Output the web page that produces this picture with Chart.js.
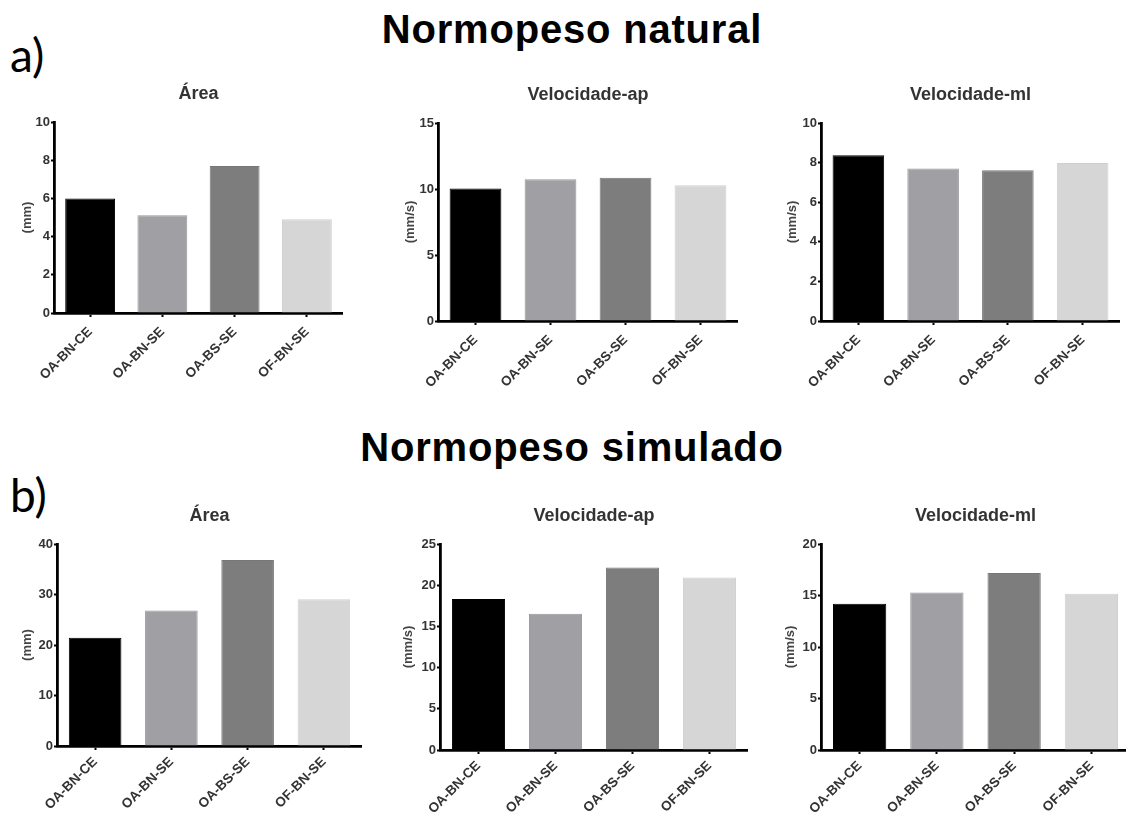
<!DOCTYPE html>
<html>
<head>
<meta charset="utf-8">
<script src="https://cdn.jsdelivr.net/npm/chart.js@4.4.1/dist/chart.umd.min.js"></script>
<style>
html,body{margin:0;padding:0;background:#fff;width:1126px;height:817px;overflow:hidden;position:relative;font-family:"Liberation Sans",Arial,sans-serif;}
.h{position:absolute;left:0;width:1144px;text-align:center;font-weight:bold;font-size:40px;line-height:40px;letter-spacing:0.8px;color:#000;white-space:nowrap;}
.p{position:absolute;left:10px;font-family:Lato,"Open Sans",sans-serif;font-size:46px;line-height:46px;color:#000;}
canvas{position:absolute;}
</style>
</head>
<body>
<div class="h" style="top:9px">Normopeso natural</div>
<div class="h" style="top:427px">Normopeso simulado</div>
<div class="p" style="top:32px">a)</div>
<div class="p" style="top:472px">b)</div>
<script>
// ---- data ----
const categories = ['OA-BN-CE', 'OA-BN-SE', 'OA-BS-SE', 'OF-BN-SE'];
const areaNatural = [6.0, 5.12, 7.7, 4.91];
const velApNatural = [10.03, 10.73, 10.86, 10.28];
const velMlNatural = [8.37, 7.70, 7.61, 7.98];
const areaSimulado = [21.45, 26.84, 36.84, 29.07];
const velApSimulado = [18.32, 16.53, 22.16, 20.94];
const velMlSimulado = [14.2, 15.3, 17.18, 15.17];
const panelTitles = ['Área', 'Velocidade-ap', 'Velocidade-ml', 'Área', 'Velocidade-ap', 'Velocidade-ml'];
const unitLabels = ['(mm)', '(mm/s)', '(mm/s)', '(mm)', '(mm/s)', '(mm/s)'];
const axisMax = [10, 15, 10, 40, 25, 20];
const axisStep = [2, 5, 2, 10, 5, 5];

// ---- styles / layout ----
const barColors = ['#000000', '#a0a0a4', '#7d7d7d', '#d6d6d6'];
const barBorders = ['#000000', '#97979b', '#777777', '#cfcfcf'];
// chart area boxes [left, top, right, bottom]
const areas = [
  [54, 122, 343, 313],
  [438, 123, 738, 321],
  [821, 123, 1120, 321],
  [57, 544, 362, 746],
  [440, 544, 748, 750],
  [821, 544, 1130, 750]
];
const unitGap = [27, 28, 29, 30, 32, 31];
const labelPad = [7, 7, 7, 4, 4, 4];
const seriesList = [areaNatural, velApNatural, velMlNatural, areaSimulado, velApSimulado, velMlSimulado];

const Y_W = 45, TOP_H = 40, X_H = 72;
const yTickFont = {family: '"Liberation Sans", Arial, sans-serif', size: 13, weight: 'bold'};
const xTickFont = {family: '"Liberation Sans", Arial, sans-serif', size: 13.5, weight: 'bold'};

seriesList.forEach((vals, i) => {
  const [l, t, r, b] = areas[i];
  const cv = document.createElement('canvas');
  const w = Y_W + (r - l);
  const h = TOP_H + (b - t) + X_H;
  cv.width = w; cv.height = h;
  cv.style.left = (l - Y_W) + 'px';
  cv.style.top = (t - TOP_H) + 'px';
  cv.style.width = w + 'px';
  cv.style.height = h + 'px';
  document.body.appendChild(cv);
  new Chart(cv, {
    type: 'bar',
    data: {
      labels: categories,
      datasets: [{
        data: vals,
        backgroundColor: barColors,
        borderColor: barBorders,
        borderWidth: 1,
        barPercentage: 0.69,
        categoryPercentage: 1
      }]
    },
    options: {
      responsive: false,
      animation: false,
      devicePixelRatio: 1,
      layout: {padding: 0},
      plugins: {
        legend: {display: false},
        tooltip: {enabled: false},
        title: {
          display: true,
          text: panelTitles[i],
          fullSize: false,
          color: '#333',
          font: {family: '"Liberation Sans", Arial, sans-serif', size: 18, weight: 'bold', lineHeight: 1.2},
          padding: {top: 1, bottom: 17.4}
        }
      },
      scales: {
        x: {
          offset: true,
          grid: {display: true, drawOnChartArea: false, drawTicks: true, offset: false, tickLength: 4, tickWidth: 2, tickColor: '#000'},
          border: {display: true, color: '#000', width: 2.8},
          ticks: {autoSkip: false, minRotation: 45, maxRotation: 45, color: '#333', font: xTickFont, padding: labelPad[i]},
          afterFit: (s) => { s.height = X_H; }
        },
        y: {
          min: 0,
          max: axisMax[i],
          grid: {display: true, drawOnChartArea: false, drawTicks: true, tickLength: 3, tickWidth: 2, tickColor: '#000'},
          border: {display: true, color: '#000', width: 2.8},
          ticks: {stepSize: axisStep[i], color: '#333', font: yTickFont, padding: 1},
          title: {
            display: true,
            text: unitLabels[i],
            color: '#444',
            font: {family: '"Liberation Sans", Arial, sans-serif', size: 13, weight: 'bold', lineHeight: 1.2},
            padding: {top: 37.2 - unitGap[i], bottom: 0}
          },
          afterFit: (s) => { s.width = Y_W; }
        }
      }
    }
  });
});
</script>
</body>
</html>
